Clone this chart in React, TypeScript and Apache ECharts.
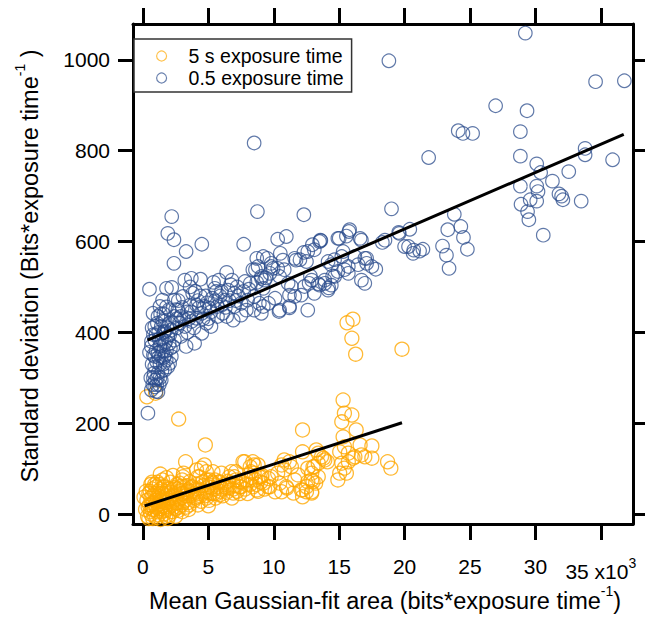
import React, { useEffect, useRef } from 'react';
import * as echarts from 'echarts';

const FONT = '"Liberation Sans", Arial, sans-serif';

const xTickValues = [0, 5000, 10000, 15000, 20000, 25000, 30000, 35000];
const xTickLabels = ['0', '5', '10', '15', '20', '25', '30', '35 x10'];
const xExponent = '3';
const yTickValues = [0, 200, 400, 600, 800, 1000];
const yTickLabels = ['0', '200', '400', '600', '800', '1000'];

const xTitle = 'Mean Gaussian-fit area (bits*exposure time';
const yTitle = 'Standard deviation (Bits*exposure time';
const unitSup = '-1';

const orangeName = '5 s exposure time';
const blueName = '0.5 exposure time';

const orangeFit: [number, number][] = [[130, 18], [19800, 201]];
const blueFit: [number, number][] = [[350, 383], [36750, 836]];

const orangePoints: [number, number][] = [
  [15600, 421], [16050, 429], [15970, 387], [16260, 352], [19800, 363], [15300, 251], [15400, 222], [15970, 218],
  [15200, 203], [16300, 185], [12200, 185], [15300, 170], [15400, 148], [16600, 152], [17500, 150], [15040, 137],
  [15700, 134], [16700, 130], [16960, 126], [17500, 123], [16060, 123], [18700, 115], [18950, 101], [15200, 112],
  [15400, 101], [15550, 90], [15040, 90], [14900, 75], [15700, 115], [16200, 126],
  [12200, 137], [13250, 141], [13650, 126], [13900, 119], [13100, 104], [12600, 101], [12900, 90], [12600, 71],
  [12500, 49], [12200, 53], [12900, 46], [13000, 71], [13400, 112],
  [10800, 119], [11350, 104], [10800, 97], [10300, 90], [9800, 82], [10450, 68], [10960, 60], [10600, 49],
  [11600, 75], [11850, 86], [9550, 60], [10100, 49],
  [300, 258], [970, 266], [2730, 209], [4770, 152], [3260, 115], [1330, 88], [80, 37],
  [4460, 101], [4850, 93], [4200, 82], [5100, 75], [5860, 71], [5360, 68], [3060, 82], [3570, 71], [2800, 68],
  [3800, 60], [3440, 53],
  [7650, 115], [8500, 108], [8250, 93], [7100, 93], [6600, 82], [7900, 75], [8900, 82], [9200, 68], [9700, 60],
  [8700, 53], [7400, 60], [6400, 57], [6900, 46], [5860, 42],
  [10600, 108], [11200, 115], [11000, 57], [11500, 46], [12100, 53], [12500, 60], [12900, 49], [12200, 38],
  [13000, 104], [13400, 134], [13800, 123], [14100, 115], [13400, 82], [12900, 75], [13200, 68],
  [4700, 108], [4100, 97], [5350, 93], [4330, 82], [4850, 75], [5500, 75], [6000, 90], [6760, 93], [7000, 82],
  [7780, 115], [8200, 104], [8400, 115], [8800, 108], [8500, 90], [9050, 82], [7400, 71],
  [500, 20], [600, 35], [700, 10], [800, 25], [900, 45], [1000, 15], [1050, 30], [1100, 5], [1150, 50], [1200, 22],
  [1300, 38], [1350, 12], [1400, 28], [1500, 45], [1550, 18], [1600, 32], [1700, 8], [1750, 40], [1800, 25],
  [1900, 55], [2000, 15], [2050, 35], [2150, 48], [2200, 20], [2300, 30], [2400, 58], [2500, 12], [2550, 40],
  [2650, 25], [2750, 50], [2850, 35], [2950, 20], [3100, 45], [3200, 30], [3350, 62], [3450, 25], [3600, 40],
  [3750, 50], [3900, 30], [4000, 55], [4150, 38], [4300, 45], [4450, 28], [4600, 62], [4750, 40], [4900, 50],
  [5050, 30], [5200, 58], [5400, 45], [5550, 35], [5700, 60], [5900, 50], [6100, 40], [6200, 65], [6400, 48],
  [6600, 58], [6800, 35], [7000, 62], [7200, 50], [7400, 45], [7600, 70], [7800, 55], [8000, 45], [8200, 65],
  [8400, 60], [8600, 75], [8800, 50], [9000, 70], [9300, 55], [9600, 78], [700, 55], [1250, 65], [1650, 60],
  [2100, 70], [2600, 65], [3000, 75], [600, 0], [900, -5], [1600, 0], [2300, 5], [1200, -2], [3500, 10],
  [2000, -3], [400, 15], [300, 30], [750, 40], [1000, 60], [1450, 5], [1850, 10], [2700, 8], [3300, 15],
  [4200, 20], [5000, 18],
  [200, 10], [350, -5], [450, 45], [550, 50], [650, 20], [750, -10], [850, 10], [950, 30], [1050, -8], [1150, 20],
  [1250, 45], [1350, 55], [1450, 35], [1550, 60], [1650, 15], [1750, -5], [1850, 45], [1950, 30], [2050, 55],
  [2150, 5], [2250, 40], [2350, 15], [2450, 45], [2550, 25], [2650, 55], [2750, 15], [2850, 60], [2950, 45],
  [3050, 25], [3150, 60], [3250, 40], [3400, 50], [3550, 20], [3700, 60], [3850, 45], [4000, 35], [4100, 65],
  [4250, 55], [4400, 40], [4550, 70], [4700, 50], [4850, 35], [5000, 60], [5150, 45], [5300, 70], [5450, 55],
  [5650, 45], [5800, 70], [6000, 55], [6300, 60], [6500, 72], [6900, 55], [7100, 75], [7500, 60], [7900, 65],
  [8300, 80], [8700, 65], [9100, 85], [600, 65], [1100, 70], [1500, 75], [1900, -10], [2500, -5], [3000, 5],
  [550, 5], [1350, -12], [900, 65], [250, 50], [450, -10], [700, 70], [1800, 80], [2300, 85], [3100, 90],
];

const bluePoints: [number, number][] = [
  [29230, 1059], [18800, 998], [34600, 952], [36800, 954], [26960, 899], [29360, 888], [24100, 844], [24460, 838],
  [25200, 838], [28850, 842], [21840, 785], [28850, 788], [33800, 805], [33800, 791], [35900, 780], [30100, 771],
  [30400, 752], [32550, 754], [31300, 733], [28850, 722], [30100, 722], [30200, 710], [29600, 692], [30100, 689],
  [28900, 682], [31800, 705], [32100, 692], [32000, 700], [33500, 689], [29400, 666], [29500, 648], [30600, 614],
  [19000, 672], [23800, 660], [23300, 626], [24300, 633], [24500, 609], [24800, 583], [22900, 590], [23200, 570],
  [23400, 541], [20400, 627], [19600, 618], [18500, 603], [20300, 589], [20700, 581], [21150, 579], [20650, 574],
  [21400, 583], [16600, 607], [17100, 563], [17800, 539], [15750, 622], [15000, 607], [13560, 603],
  [8750, 666], [12300, 659], [10300, 605], [10960, 611], [13500, 600], [14900, 607], [15800, 626], [15550, 612],
  [16700, 603], [18300, 598], [19550, 620], [20000, 589], [10500, 574], [8700, 563], [9500, 563], [9800, 552],
  [11600, 563], [12000, 560], [12600, 578], [13100, 582], [12500, 556], [14150, 556], [14400, 549], [14650, 560],
  [15200, 567], [15300, 578], [15700, 545], [16200, 567], [16450, 549], [16960, 563], [17100, 552], [16700, 515],
  [16960, 508], [17500, 545],
  [8600, 538], [9050, 523], [9300, 515], [9700, 530], [9800, 545], [10300, 541], [10450, 523], [10800, 538],
  [11100, 508], [11350, 501], [11200, 482], [11600, 479], [12100, 482], [12350, 501], [12700, 508], [12900, 515],
  [13100, 486], [13500, 504], [13900, 508], [14150, 493], [14400, 504], [14650, 523], [14900, 534], [15400, 538],
  [15700, 530], [12600, 449], [10450, 449], [11200, 457], [9050, 442], [9600, 464], [10100, 475],
  [2200, 655], [1900, 618], [2370, 604], [3300, 578], [4500, 594], [2370, 552], [6400, 532], [500, 495],
  [1800, 497], [2200, 499], [3200, 515], [3700, 519], [3800, 486], [3060, 479], [2400, 471], [1500, 471],
  [1300, 457],
  [5500, 497], [5600, 490], [6500, 493], [7000, 486], [7800, 512], [8200, 508], [8400, 538], [8800, 545],
  [9050, 519], [9200, 497], [8500, 479], [8000, 471], [7500, 464], [7000, 457], [6250, 471], [5700, 457],
  [5100, 453], [4700, 457], [4500, 442], [4100, 431], [3700, 424], [3200, 413], [2900, 391], [3300, 369],
  [3950, 376], [4500, 398], [4850, 420], [5200, 413], [5700, 435], [6100, 442], [6400, 435], [6900, 427],
  [7500, 438], [7900, 449], [8500, 449], [8900, 464], [9200, 457], [9200, 567],
  [770, 442], [1150, 435], [900, 413], [1400, 413], [1660, 402], [900, 383], [1280, 369], [1660, 376],
  [1900, 391], [2170, 405], [2400, 435], [2670, 449], [2900, 435], [2400, 383], [1150, 354], [900, 347],
  [1400, 347], [1780, 339], [2170, 347], [1900, 324], [900, 324], [1150, 310], [1660, 317], [1400, 295],
  [900, 280], [640, 273], [1150, 269], [380, 222], [2040, 332], [2300, 369], [500, 356], [640, 369],
  [8500, 817], [7700, 594], [4400, 517], [1800, 456], [10700, 559], [9950, 541], [11700, 559], [12300, 576],
  [12950, 593], [13600, 602], [12800, 524], [13400, 507], [13900, 515], [14500, 524], [14200, 498], [10400, 446],
  [11200, 454],
  [1000, 395], [1250, 385], [1550, 360], [1700, 350], [1000, 360], [1300, 330], [1550, 330], [1100, 300],
  [800, 300], [1250, 285], [1000, 270], [1700, 425], [2000, 420], [2600, 410], [2100, 365], [800, 350],
  [1600, 440], [2000, 450], [2700, 470], [3400, 445], [3600, 460], [4200, 470], [4000, 490], [4800, 480],
  [5300, 475], [6000, 490], [6700, 505], [7200, 500], [5000, 430], [3500, 430], [6000, 460], [7300, 480],
  [5800, 515], [4300, 455], [3000, 455], [2600, 430],
  [700, 330], [850, 310], [950, 295], [1050, 335], [1200, 345], [1350, 370], [1450, 385], [1600, 400],
  [1750, 380], [1850, 410], [2050, 395], [2250, 420], [600, 300], [750, 285], [1050, 285], [1300, 300],
  [1450, 315], [1600, 345], [1800, 360], [2000, 375], [1100, 420], [1350, 440], [1500, 425], [800, 395],
  [700, 410], [650, 380], [1200, 400], [2500, 450], [2800, 420], [3100, 430], [3400, 400], [3700, 445],
  [3900, 410], [4100, 460], [4400, 480], [4600, 430], [4900, 465], [5200, 445], [5500, 470], [5900, 480],
  [6300, 455], [6600, 470], [7100, 470], [7700, 490], [8100, 495], [8700, 510], [9400, 520], [6800, 515],
  [5400, 510], [3600, 500],
];

const ORANGE = '#ffa800';
const BLUE = '#2b4c8c';

export default function App() {
  const ref = useRef<HTMLDivElement>(null);

  useEffect(() => {
    if (!ref.current) return;
    const chart = echarts.init(ref.current, null, { renderer: 'svg' });

    const axisLine = { show: true, onZero: false, lineStyle: { color: '#000', width: 3 } };
    const xMin = -760;
    const xMax = 37460;
    const yMin = -22;
    const yMax = 1079;

    const xLabelFormatter = (v: number) => {
      const i = xTickValues.indexOf(v);
      if (i < 0) return '';
      if (i === xTickValues.length - 1) return `{n|${xTickLabels[i]}}{s|${xExponent}}`;
      return xTickLabels[i];
    };
    const yLabelFormatter = (v: number) => {
      const i = yTickValues.indexOf(v);
      return i < 0 ? '' : yTickLabels[i];
    };

    const option: any = {
      animation: false,
      backgroundColor: '#fff',
      grid: { left: 133, right: 12, top: 24, bottom: 96 },
      xAxis: [
        {
          type: 'value', position: 'bottom', min: xMin, max: xMax,
          axisLine,
          axisTick: { show: true, inside: false, length: 16, lineStyle: { color: '#000', width: 3 }, customValues: xTickValues },
          axisLabel: {
            show: true, customValues: xTickValues, formatter: xLabelFormatter, margin: 32,
            fontSize: 21, fontFamily: FONT, color: '#000',
            rich: {
              n: { fontSize: 21, fontFamily: FONT, color: '#000', lineHeight: 30 },
              s: { fontSize: 14, fontFamily: FONT, color: '#000', verticalAlign: 'top', lineHeight: 14 },
            },
          },
          splitLine: { show: false },
        },
        {
          type: 'value', position: 'top', min: xMin, max: xMax,
          axisLine,
          axisTick: { show: true, inside: false, length: 16, lineStyle: { color: '#000', width: 3 }, customValues: xTickValues },
          axisLabel: { show: false },
          splitLine: { show: false },
        },
      ],
      yAxis: [
        {
          type: 'value', position: 'left', min: yMin, max: yMax,
          axisLine,
          axisTick: { show: true, inside: false, length: 15, lineStyle: { color: '#000', width: 3 }, customValues: yTickValues },
          axisLabel: { show: true, customValues: yTickValues, formatter: yLabelFormatter, margin: 23, fontSize: 21, fontFamily: FONT, color: '#000' },
          splitLine: { show: false },
        },
        {
          type: 'value', position: 'right', min: yMin, max: yMax,
          axisLine,
          axisTick: { show: true, inside: false, length: 15, lineStyle: { color: '#000', width: 3 }, customValues: yTickValues },
          axisLabel: { show: false },
          splitLine: { show: false },
        },
      ],
      legend: {
        show: true, orient: 'vertical', left: 134, top: 39,
        padding: [7, 8, 4, 22], itemWidth: 44, itemHeight: 10, itemGap: 2,
        borderColor: '#333', borderWidth: 1.5, backgroundColor: '#fff', z: 10,
        textStyle: { fontSize: 19.5, fontFamily: FONT, color: '#000', lineHeight: 20 },
        data: [
          { name: orangeName, icon: 'circle', itemStyle: { color: 'rgba(0,0,0,0)', borderColor: ORANGE, borderWidth: 1.2, opacity: 0.7 } },
          { name: blueName, icon: 'circle', itemStyle: { color: 'rgba(0,0,0,0)', borderColor: BLUE, borderWidth: 1.2, opacity: 0.7 } },
        ],
      },
      graphic: [
        {
          type: 'text', x: 385, y: 601, silent: true,
          style: {
            text: `{a|${xTitle}}{s|${unitSup}}{a|)}`,
            align: 'center', verticalAlign: 'middle',
            rich: {
              a: { fontSize: 23.5, fontFamily: FONT, fill: '#000', lineHeight: 34 },
              s: { fontSize: 14, fontFamily: FONT, fill: '#000', verticalAlign: 'top', lineHeight: 14 },
            },
          },
        },
        {
          type: 'text', x: 30, y: 266, rotation: Math.PI / 2, silent: true,
          style: {
            text: `{a|${yTitle}}{s|${unitSup}}{a| )}`,
            align: 'center', verticalAlign: 'middle',
            rich: {
              a: { fontSize: 23.5, fontFamily: FONT, fill: '#000', lineHeight: 34 },
              s: { fontSize: 14, fontFamily: FONT, fill: '#000', verticalAlign: 'top', lineHeight: 14 },
            },
          },
        },
      ],
      series: [
        {
          name: orangeName, type: 'scatter', data: orangePoints, symbol: 'circle', symbolSize: 14, silent: true,
          itemStyle: { color: 'rgba(0,0,0,0)', borderColor: ORANGE, borderWidth: 1.3, opacity: 0.8 },
          emphasis: { disabled: true }, z: 2,
        },
        {
          name: blueName, type: 'scatter', data: bluePoints, symbol: 'circle', symbolSize: 13.5, silent: true,
          itemStyle: { color: 'rgba(0,0,0,0)', borderColor: BLUE, borderWidth: 1.2, opacity: 0.75 },
          emphasis: { disabled: true }, z: 2,
        },
        {
          name: 'orange fit', type: 'line', data: orangeFit, symbol: 'none', silent: true,
          lineStyle: { color: '#000', width: 3 }, z: 5,
        },
        {
          name: 'blue fit', type: 'line', data: blueFit, symbol: 'none', silent: true,
          lineStyle: { color: '#000', width: 3 }, z: 5,
        },
      ],
    };

    chart.setOption(option);
    return () => chart.dispose();
  }, []);

  return (
    <div
      ref={ref}
      style={{ position: 'absolute', left: 0, top: 0, width: 645, height: 620, background: '#fff' }}
    />
  );
}
